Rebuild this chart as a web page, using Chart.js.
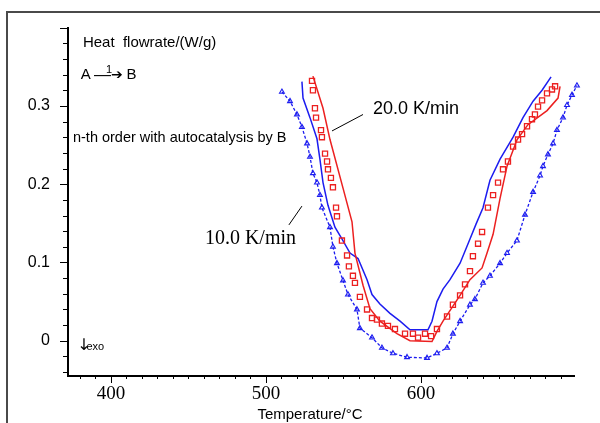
<!DOCTYPE html>
<html>
<head>
<meta charset="utf-8">
<script src="https://cdn.jsdelivr.net/npm/chart.js@4.4.1/dist/chart.umd.min.js"></script>
<style>
  html, body { margin: 0; padding: 0; background: #fff; }
  #wrap { width: 600px; height: 423px; }
</style>
</head>
<body>
<div id="wrap"><canvas id="dsc-chart" width="600" height="423"></canvas></div>
<script>
// ===== values (temperature in °C, heat flow in W/g) =====
const blueLineT = [523.2, 523.9, 528.4, 532.9, 534.8, 536.8, 540.0, 544.5, 549.0, 554.2, 559.4, 565.2, 568.4, 573.5, 580.0, 586.5, 592.9, 604.5,
    607.1, 610.3, 614.2, 618.7, 625.2, 631.6, 635.5, 640.0, 644.5, 651.0, 659.4, 665.8, 672.3, 678.1, 683.9];
const blueLineQ = [0.331, 0.310, 0.285, 0.258, 0.232, 0.202, 0.173, 0.145, 0.130, 0.112, 0.105, 0.078, 0.059, 0.047, 0.035, 0.025, 0.014, 0.014,
    0.025, 0.050, 0.066, 0.078, 0.099, 0.130, 0.149, 0.170, 0.205, 0.232, 0.260, 0.285, 0.306, 0.320, 0.337];

const redLineT = [530.3, 536.8, 541.3, 549.7, 555.5, 557.4, 562.6, 567.1, 573.5, 584.5, 592.9, 607.1,
    610.3, 614.2, 625.2, 631.6, 639.4, 642.6, 646.5, 651.0, 655.5, 662.0, 669.0, 681.3, 688.4, 689.7];
const redLineQ = [0.338, 0.297, 0.257, 0.195, 0.152, 0.112, 0.071, 0.041, 0.025, 0.009, 0.000, -0.001,
    0.012, 0.025, 0.058, 0.078, 0.093, 0.112, 0.136, 0.182, 0.223, 0.257, 0.276, 0.294, 0.310, 0.325];

const redSquareT = [529.7, 530.3, 531.6, 532.3, 535.5, 536.1, 538.1, 539.4, 540.0, 541.9, 543.2, 545.2, 545.8, 549.0, 552.3, 553.5,
    556.1, 557.4, 560.6, 565.2, 568.4, 571.6, 574.8, 578.7, 583.2, 589.7, 594.8, 598.1, 602.6, 606.5, 610.3, 616.8, 620.6, 625.2,
    628.4, 631.6, 633.5, 636.8, 639.4, 643.2, 646.5, 649.7, 652.9, 656.1, 659.4, 662.6, 665.2, 668.4, 671.6, 673.5, 675.5,
    678.1, 681.3, 684.5, 686.5];
const redSquareQ = [0.332, 0.320, 0.297, 0.285, 0.269, 0.260, 0.239, 0.229, 0.219, 0.208, 0.196, 0.170, 0.159, 0.128, 0.109, 0.095,
    0.083, 0.074, 0.056, 0.040, 0.029, 0.027, 0.022, 0.019, 0.015, 0.009, 0.009, 0.004, 0.009, 0.006, 0.015, 0.031, 0.046, 0.058,
    0.072, 0.089, 0.108, 0.124, 0.139, 0.170, 0.186, 0.202, 0.219, 0.229, 0.248, 0.257, 0.264, 0.274, 0.283, 0.289, 0.299,
    0.307, 0.316, 0.321, 0.325];

const blueTriT = [510.3, 515.5, 520.0, 523.2, 526.5, 528.4, 530.3, 532.9, 534.8, 536.1, 541.3, 543.2, 545.8, 549.7, 552.9, 558.7,
    560.6, 568.4, 574.8, 581.9, 591.0, 603.9, 610.3, 616.8, 620.6, 625.2, 631.6, 634.8, 640.0, 644.5, 651.0, 655.5, 661.9,
    667.1, 672.3, 676.8, 678.7, 681.9, 685.2, 687.7, 691.6, 694.2, 697.4, 700.6, 702.6];
const blueTriQ = [0.318, 0.306, 0.289, 0.273, 0.252, 0.235, 0.214, 0.202, 0.186, 0.170, 0.145, 0.120, 0.099, 0.077, 0.059, 0.040,
    0.016, 0.004, -0.009, -0.016, -0.021, -0.022, -0.016, -0.009, 0.009, 0.025, 0.046, 0.053, 0.074, 0.083, 0.099, 0.112, 0.128,
    0.161, 0.190, 0.211, 0.223, 0.238, 0.252, 0.269, 0.285, 0.301, 0.314, 0.326, 0.332];

const xTickValues = [400, 500, 600];
const xTickLabels = ['400', '500', '600'];
const yTickValues = [0, 0.1, 0.2, 0.3];
const yTickLabels = ['0', '0.1', '0.2', '0.3'];

const BLUE = '#1c1cf0';
const RED = '#ec2020';
const SANS = 'Liberation Sans, Arial, sans-serif';
const SERIF = 'Liberation Serif, Times New Roman, serif';
const DEJAVU = 'DejaVu Sans, sans-serif';

function toPoints(xs, ys) {
    return xs.map((v, i) => ({ x: v, y: ys[i] }));
}

// ========== labels written inside the plot (data coordinates) ==========
const notes = [
    { text: 'Heat  flowrate/(W/g)', x: 381.9, y: 0.381, font: '15px ' + SANS },
    { text: 'A', x: 380.6, y: 0.339, font: '15px ' + SANS },
    { text: '—', x: 389.0, y: 0.339, font: '17px ' + SANS },
    { text: '1', x: 396.8, y: 0.3453, font: '11px ' + SANS },
    { text: '➔', x: 400.0, y: 0.339, font: '14px ' + DEJAVU },
    { text: 'B', x: 410.0, y: 0.339, font: '15px ' + SANS },
    { text: 'n-th order with autocatalysis by B', x: 375.5, y: 0.259, font: '14.5px ' + SANS },
    { text: '↓', x: 378.2, y: -0.007, font: '16px ' + DEJAVU },
    { text: 'exo', x: 384.2, y: -0.008, font: '11px ' + SANS },
    { text: '20.0 K/min', x: 569.0, y: 0.2966, font: '18px ' + SANS },
    { text: '10.0 K/min', x: 460.6, y: 0.1308, font: '20px ' + SERIF }
];
const leaders = [
    [542.6, 0.268, 562.6, 0.289],
    [514.8, 0.148, 523.2, 0.172]
];

const decorPlugin = {
    id: 'decor',
    beforeDraw(chart) {
        const ctx = chart.ctx;
        ctx.save();
        ctx.fillStyle = '#fff';
        ctx.fillRect(0, 0, chart.width, chart.height);
        // outer frame (left and top only)
        ctx.strokeStyle = '#4a4a4a';
        ctx.lineWidth = 2;
        ctx.beginPath();
        ctx.moveTo(7, chart.height);
        ctx.lineTo(7, 12);
        ctx.lineTo(chart.width, 12);
        ctx.stroke();
        ctx.restore();
    },
    afterDraw(chart) {
        const { ctx, scales: { x, y }, chartArea } = chart;
        ctx.save();
        ctx.strokeStyle = '#000';
        ctx.lineWidth = 1;
        // ===== tick marks: major + minor =====
        ctx.beginPath();
        for (let t = 380; t <= 690; t += 10) {
            const px = Math.round(x.getPixelForValue(t)) + 0.5;
            const len = t % 100 === 0 ? 7 : 3;
            ctx.moveTo(px, chartArea.bottom);
            ctx.lineTo(px, chartArea.bottom + len);
        }
        for (let k = -2; k <= 20; k++) {
            const v = k * 0.02;
            const py = Math.round(y.getPixelForValue(v)) + 0.5;
            const len = k % 5 === 0 ? 8 : 5;
            ctx.moveTo(chartArea.left - len, py);
            ctx.lineTo(chartArea.left, py);
        }
        ctx.stroke();

        // ===== leader lines =====
        ctx.beginPath();
        leaders.forEach(l => {
            ctx.moveTo(x.getPixelForValue(l[0]), y.getPixelForValue(l[1]));
            ctx.lineTo(x.getPixelForValue(l[2]), y.getPixelForValue(l[3]));
        });
        ctx.stroke();

        // ===== texts =====
        ctx.fillStyle = '#000';
        ctx.textAlign = 'left';
        ctx.textBaseline = 'middle';
        notes.forEach(n => {
            ctx.font = n.font;
            ctx.fillText(n.text, x.getPixelForValue(n.x), y.getPixelForValue(n.y));
        });

        // axis title
        ctx.font = '15px ' + SANS;
        ctx.textAlign = 'center';
        ctx.fillText('Temperature/°C', x.getPixelForValue(528.4), 415);
        ctx.restore();
    }
};

const ctx = document.getElementById('dsc-chart').getContext('2d');
new Chart(ctx, {
    type: 'scatter',
    data: {
        datasets: [
            {
                label: '10 K/min exp',
                data: toPoints(blueTriT, blueTriQ),
                showLine: true,
                borderColor: BLUE,
                borderWidth: 1.3,
                borderDash: [3, 2],
                pointStyle: 'triangle',
                pointRadius: 2.8,
                pointBorderWidth: 1.1,
                pointBorderColor: BLUE,
                pointBackgroundColor: 'rgba(0,0,0,0)',
                clip: false
            },
            {
                label: '20 K/min exp',
                data: toPoints(redSquareT, redSquareQ),
                showLine: false,
                pointStyle: 'rect',
                pointRadius: 3.6,
                pointBorderWidth: 1.3,
                pointBorderColor: RED,
                pointBackgroundColor: 'rgba(0,0,0,0)',
                clip: false
            },
            {
                label: '20 K/min fit',
                data: toPoints(redLineT, redLineQ),
                showLine: true,
                borderColor: RED,
                borderWidth: 1.5,
                pointRadius: 0,
                clip: false
            },
            {
                label: '10 K/min fit',
                data: toPoints(blueLineT, blueLineQ),
                showLine: true,
                borderColor: BLUE,
                borderWidth: 1.5,
                pointRadius: 0,
                clip: false
            }
        ]
    },
    options: {
        responsive: false,
        animation: false,
        layout: { padding: { left: 0, right: 26, top: 19, bottom: 0 } },
        plugins: {
            legend: { display: false },
            tooltip: { enabled: false }
        },
        scales: {
            x: {
                type: 'linear',
                min: 372.3,
                max: 698.7,
                afterFit: s => { s.height = 47; },
                afterBuildTicks: s => { s.ticks = xTickValues.map(v => ({ value: v })); },
                grid: { display: false, drawTicks: false },
                border: { display: true, color: '#000', width: 2 },
                ticks: {
                    color: '#000',
                    padding: 7,
                    maxRotation: 0,
                    font: { family: SERIF, size: 19 },
                    callback: v => xTickLabels[xTickValues.indexOf(v)] || ''
                }
            },
            y: {
                type: 'linear',
                min: -0.045,
                max: 0.40,
                afterFit: s => { s.width = 68; },
                afterBuildTicks: s => { s.ticks = yTickValues.map(v => ({ value: v })); },
                grid: { display: false, drawTicks: false },
                border: { display: true, color: '#000', width: 2 },
                ticks: {
                    color: '#000',
                    padding: 18,
                    font: { family: SANS, size: 16 },
                    callback: v => yTickLabels[yTickValues.indexOf(v)] || ''
                }
            }
        }
    },
    plugins: [decorPlugin]
});
</script>
</body>
</html>
